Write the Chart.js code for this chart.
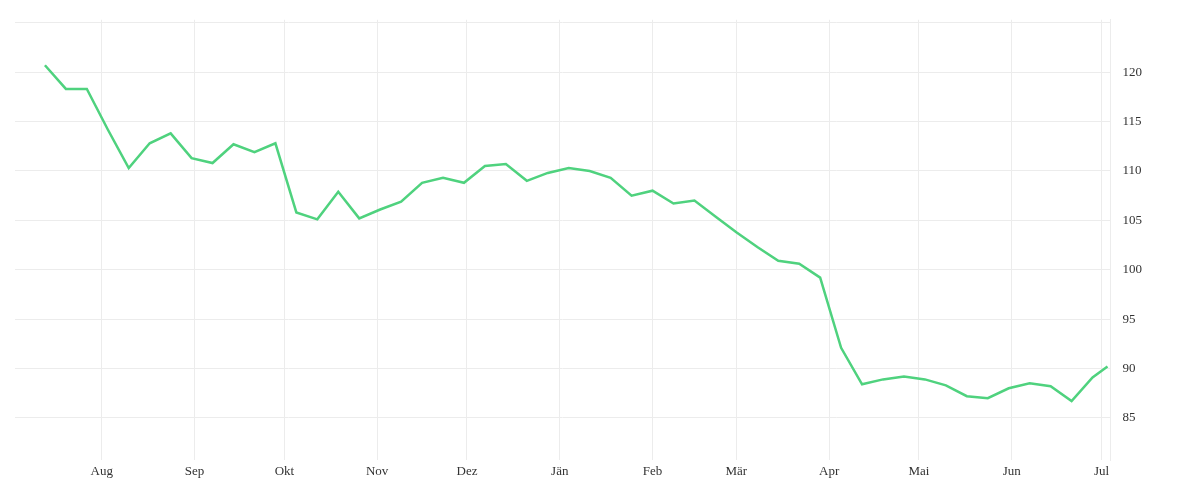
<!DOCTYPE html>
<html>
<head>
<meta charset="utf-8">
<script src="https://cdn.jsdelivr.net/npm/chart.js@4"></script>
<style>
  body { margin: 0; background: #fff; }
  #wrap { width: 1200px; height: 500px; }
</style>
</head>
<body>
<div id="wrap"><canvas id="chart"></canvas></div>
<script>
// Wochenwerte, Jul 2022 - Jul 2023
const dates = [
  '2022-07-13','2022-07-20','2022-07-27','2022-08-03','2022-08-10','2022-08-17','2022-08-24','2022-08-31',
  '2022-09-07','2022-09-14','2022-09-21','2022-09-28','2022-10-05','2022-10-12','2022-10-19','2022-10-26',
  '2022-11-02','2022-11-09','2022-11-16','2022-11-23','2022-11-30','2022-12-07','2022-12-14','2022-12-21',
  '2022-12-28','2023-01-04','2023-01-11','2023-01-18','2023-01-25','2023-02-01','2023-02-08','2023-02-15',
  '2023-02-22','2023-03-01','2023-03-08','2023-03-15','2023-03-22','2023-03-29','2023-04-05','2023-04-12',
  '2023-04-19','2023-04-26','2023-05-03','2023-05-10','2023-05-17','2023-05-24','2023-05-31','2023-06-07',
  '2023-06-14','2023-06-21','2023-06-28','2023-07-03'
];
const values = [
  120.7, 118.3, 118.3, 114.2, 110.3, 112.8, 113.8, 111.3,
  110.8, 112.7, 111.9, 112.8, 105.8, 105.1, 107.9, 105.2,
  106.1, 106.9, 108.8, 109.3, 108.8, 110.5, 110.7, 109.0,
  109.8, 110.3, 110.0, 109.3, 107.5, 108.0, 106.7, 107.0,
  105.4, 103.8, 102.3, 100.9, 100.6, 99.2, 92.1, 88.4,
  88.9, 89.2, 88.9, 88.3, 87.2, 87.0, 88.0, 88.5,
  88.2, 86.7, 89.1, 90.2
];
const monthStarts = ['2022-08-01','2022-09-01','2022-10-01','2022-11-01','2022-12-01','2023-01-01',
  '2023-02-01','2023-03-01','2023-04-01','2023-05-01','2023-06-01','2023-07-01'];
const monthLabels = ['Aug','Sep','Okt','Nov','Dez','Jän','Feb','Mär','Apr','Mai','Jun','Jul'];
const yTicks = [85, 90, 95, 100, 105, 110, 115, 120];

const base = Date.UTC(2022, 7, 1);
const day = s => (Date.parse(s + 'T00:00:00Z') - base) / 86400000;
const monthDays = monthStarts.map(day);

const ctx = document.getElementById('chart').getContext('2d');
new Chart(ctx, {
  type: 'line',
  data: {
    datasets: [{
      data: dates.map((d, i) => ({ x: day(d), y: values[i] })),
      borderColor: '#4fd27e',
      borderWidth: 2.5,
      pointRadius: 0,
      tension: 0,
      fill: false
    }]
  },
  options: {
    responsive: true,
    maintainAspectRatio: false,
    animation: false,
    layout: { padding: { left: 15, right: 46, top: 2, bottom: 18 } },
    plugins: { legend: { display: false }, tooltip: { enabled: false } },
    scales: {
      x: {
        type: 'linear',
        min: -29,
        max: 337,
        afterBuildTicks: ax => { ax.ticks = monthDays.map(v => ({ value: v })); },
        ticks: {
          autoSkip: false,
          maxRotation: 0,
          color: '#333',
          font: { family: 'Liberation Serif', size: 13 },
          callback: (v, i) => monthLabels[i]
        },
        grid: { color: '#ececec', drawTicks: false },
        border: { display: false }
      },
      y: {
        position: 'right',
        min: 80.7,
        max: 125.3,
        afterBuildTicks: ax => { ax.ticks = [...yTicks, 125].map(v => ({ value: v })); },
        ticks: {
          color: '#333',
          padding: 12,
          font: { family: 'Liberation Serif', size: 13 },
          callback: v => v === 125 ? '' : v
        },
        grid: { color: '#ececec', drawTicks: false },
        border: { display: true, color: '#ececec' }
      }
    }
  }
});
</script>
</body>
</html>
